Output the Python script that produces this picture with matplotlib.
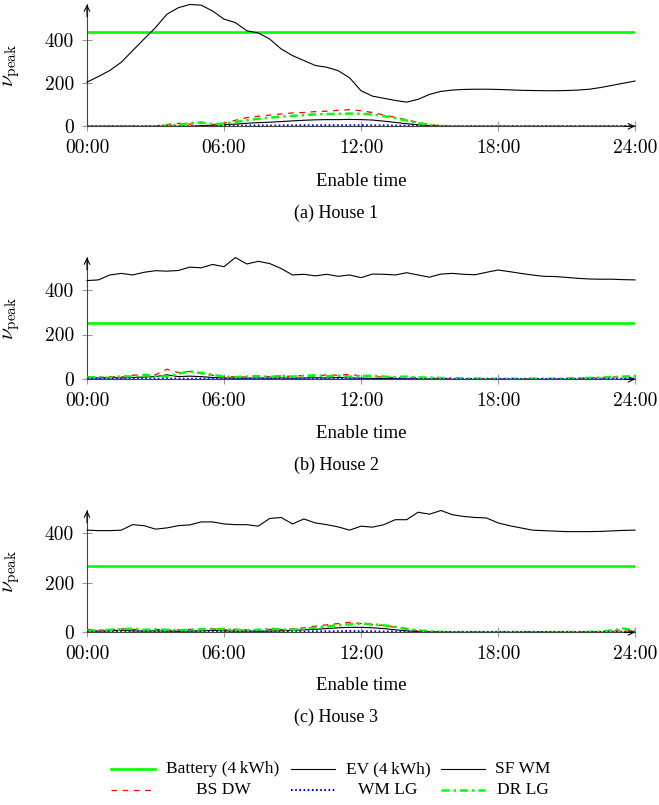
"""
Peak factor vs. enable time for three houses (recreated figure)
"""

import numpy as np
import matplotlib.pyplot as plt
from matplotlib.lines import Line2D
from matplotlib.ticker import FuncFormatter

plt.rcParams['font.family'] = 'serif'
plt.rcParams['font.serif'] = ['Liberation Serif', 'DejaVu Serif']
plt.rcParams['mathtext.fontset'] = 'cm'

# half-hour grid of enable times (hours)
hours = np.arange(0, 24.01, 0.5)

battery = [438, 253, 268]

ev_h1 = [205, 231, 259, 297, 351, 405, 458, 520, 550, 565, 562, 535,
         497, 481, 443, 433, 405, 359, 328, 305, 282, 274, 258, 225,
         165, 140, 130, 120, 112, 125, 148, 162, 168, 171, 172, 172,
         171, 169, 167, 166, 165, 165, 166, 168, 172, 180, 190, 200, 210]
sf_h1 = [0, 0, 0, 0, 0, 0, 0, 0, 0, 0, 3, 5,
         8, 10, 14, 17, 19, 22, 25, 28, 30, 31, 31, 32,
         31, 29, 24, 18, 12, 7, 3, 0, 0, 0, 0, 0,
         0, 0, 0, 0, 0, 0, 0, 0, 0, 0, 0, 0, 0]
bs_h1 = [0, 0, 0, 0, 0, 0, 2, 8, 14, 10, 16, 8,
         14, 28, 40, 47, 52, 57, 62, 64, 68, 70, 74, 77,
         72, 64, 52, 42, 30, 18, 8, 2, 0, 0, 0, 0,
         0, 0, 0, 0, 0, 0, 0, 0, 0, 0, 0, 0, 0]
wm_h1 = [0, 0, 0, 0, 0, 0, 0, 0, 0, 0, 0, 0,
         2, 3, 3, 4, 3, 4, 4, 5, 4, 5, 5, 4,
         5, 4, 4, 3, 3, 2, 1, 0, 0, 0, 0, 0,
         0, 0, 0, 0, 0, 0, 0, 0, 0, 0, 0, 0, 0]
dr_h1 = [0, 0, 0, 0, 0, 0, 0, 3, 6, 15, 18, 10,
         12, 20, 28, 35, 40, 45, 48, 52, 55, 57, 58, 59,
         58, 55, 47, 38, 27, 15, 6, 1, 0, 0, 0, 0,
         0, 0, 0, 0, 0, 0, 0, 0, 0, 0, 0, 0, 0]

ev_h2 = [441, 444, 466, 473, 466, 478, 485, 483, 486, 501, 498, 513,
         503, 544, 515, 527, 517, 495, 466, 469, 462, 469, 460, 466,
         454, 470, 469, 466, 476, 466, 456, 470, 473, 469, 467, 478,
         488, 481, 473, 466, 460, 459, 455, 451, 448, 447, 447, 445, 444]
sf_h2 = [5, 6, 8, 6, 8, 10, 12, 20, 12, 14, 12, 8,
         6, 5, 5, 6, 5, 6, 5, 6, 7, 6, 8, 6,
         5, 4, 3, 3, 2, 2, 1, 1, 0, 0, 0, 0,
         0, 0, 0, 0, 0, 0, 0, 0, 0, 0, 0, 0, 0]
bs_h2 = [12, 8, 12, 10, 18, 22, 20, 45, 30, 35, 25, 18,
         10, 12, 10, 14, 12, 15, 12, 18, 14, 20, 18, 22,
         15, 12, 10, 8, 6, 8, 5, 4, 3, 3, 2, 2,
         1, 2, 1, 2, 1, 2, 3, 4, 8, 5, 10, 12, 15]
wm_h2 = [3, 2, 3, 2, 3, 3, 2, 3, 3, 2, 3, 2,
         2, 3, 2, 2, 3, 2, 2, 2, 3, 2, 2, 2,
         2, 2, 1, 2, 1, 1, 1, 1, 1, 1, 1, 1,
         1, 1, 1, 1, 1, 1, 1, 1, 1, 2, 2, 2, 3]
dr_h2 = [8, 10, 6, 14, 12, 18, 15, 12, 25, 35, 28, 20,
         12, 10, 12, 14, 10, 16, 12, 15, 18, 14, 16, 12,
         14, 16, 12, 10, 12, 8, 8, 6, 5, 4, 3, 3,
         2, 3, 2, 3, 3, 3, 4, 5, 6, 8, 10, 12, 14]

ev_h3 = [411, 409, 409, 411, 433, 429, 415, 420, 429, 432, 444, 444,
         436, 433, 433, 427, 458, 462, 436, 456, 440, 433, 424, 411,
         427, 423, 433, 453, 453, 483, 475, 490, 473, 466, 462, 460,
         440, 429, 420, 411, 409, 407, 405, 405, 405, 406, 408, 410, 411]
sf_h3 = [5, 5, 6, 8, 6, 5, 6, 5, 4, 5, 6, 8,
         6, 5, 5, 4, 5, 6, 8, 10, 12, 15, 18, 20,
         20, 18, 15, 10, 6, 3, 1, 0, 0, 0, 0, 0,
         0, 0, 0, 0, 0, 0, 0, 0, 0, 0, 0, 0, 0]
bs_h3 = [12, 8, 10, 14, 12, 10, 12, 8, 10, 12, 10, 14,
         10, 12, 10, 8, 12, 10, 14, 18, 25, 30, 35, 40,
         35, 30, 28, 20, 12, 6, 3, 2, 1, 2, 1, 1,
         2, 1, 1, 2, 1, 1, 2, 1, 2, 3, 5, 10, 5]
wm_h3 = [2, 2, 3, 2, 2, 3, 2, 2, 3, 2, 2, 3,
         2, 2, 2, 3, 2, 2, 3, 3, 4, 4, 4, 5,
         4, 4, 3, 3, 2, 2, 1, 1, 1, 1, 1, 1,
         1, 1, 1, 1, 1, 1, 1, 1, 1, 1, 2, 2, 2]
dr_h3 = [6, 8, 10, 12, 15, 10, 12, 10, 8, 10, 12, 14,
         12, 10, 8, 10, 14, 12, 10, 14, 18, 24, 28, 32,
         35, 32, 28, 22, 14, 8, 4, 2, 1, 1, 1, 1,
         1, 1, 1, 1, 1, 1, 1, 1, 2, 3, 8, 15, 8]

houses = [
    (ev_h1, sf_h1, bs_h1, wm_h1, dr_h1),
    (ev_h2, sf_h2, bs_h2, wm_h2, dr_h2),
    (ev_h3, sf_h3, bs_h3, wm_h3, dr_h3),
]
captions = ['(a) House 1', '(b) House 2', '(c) House 3']

GREEN = '#00ff00'
styles = {
    'Battery (4\u2009kWh)': dict(color=GREEN, lw=1.9),
    'EV (4\u2009kWh)': dict(color='black', lw=0.8),
    'SF WM': dict(color='black', lw=0.8),
    'BS DW': dict(color='red', lw=0.9, dashes=(4.5, 4.5)),
    'WM LG': dict(color='blue', lw=1.5, dashes=(0.8, 1.2)),
    'DR LG': dict(color=GREEN, lw=1.8, dashes=(3.2, 1.6, 1.0, 1.6)),
}
names = list(styles.keys())

W, H = 659, 805
fig = plt.figure(figsize=(W / 100, H / 100), dpi=100)

# pixel geometry of each panel: y of the zero line, caption, axis label
zero_y = [126.3, 379.3, 632.3]
label_y = [181.5, 433.0, 685.0]
caption_y = [213, 465, 717]
ax_left, ax_right, ax_h = 87, 635, 121.8

for i, (data, cap) in enumerate(zip(houses, captions)):
    ev, sf, bs, wm, dr = data
    ax = fig.add_axes([ax_left / W, 1 - zero_y[i] / H,
                       (ax_right - ax_left) / W, ax_h / H])

    ax.axhline(battery[i], **styles[names[0]], zorder=2)
    ax.plot(hours, ev, **styles[names[1]], zorder=3, clip_on=False)
    ax.plot(hours, sf, **styles[names[2]], zorder=3)
    ax.plot(hours, bs, **styles[names[3]], zorder=4)
    ax.plot(hours, wm, **styles[names[4]], zorder=5)
    ax.plot(hours, dr, **styles[names[5]], zorder=4)

    ax.set_xlim(0, 24)
    ax.set_ylim(0, max(ev))
    ax.set_xticks([0, 6, 12, 18, 24])
    ax.set_yticks([0, 200, 400])
    ax.xaxis.set_major_formatter(FuncFormatter(lambda v, p: f'{int(v):02d}:00'))
    ax.yaxis.set_major_formatter(FuncFormatter(lambda v, p: f'{int(v)}'))
    ax.tick_params(direction='inout', length=7, width=0.8, color='#999999',
                   labelsize=14, pad=6, labelfontfamily='cmr10')

    for s in ['top', 'right']:
        ax.spines[s].set_visible(False)
    for s in ['left', 'bottom']:
        ax.spines[s].set_color('#444444')
        ax.spines[s].set_linewidth(0.8)
    # axis arrows
    ax.annotate('', xy=(1.0, 0), xytext=(0.98, 0), xycoords='axes fraction',
                arrowprops=dict(arrowstyle='->', color='black', lw=0.8,
                                shrinkA=0, shrinkB=0))
    ax.annotate('', xy=(0, 1.0), xytext=(0, 0.9), xycoords='axes fraction',
                arrowprops=dict(arrowstyle='->', color='black', lw=0.8,
                                shrinkA=0, shrinkB=0))

    ax.set_ylabel(r'$\nu_{\mathrm{peak}}$', fontsize=15.5)
    ax.yaxis.set_label_coords(-0.118, 0.5)
    fig.text((ax_left + ax_right) / 2 / W, 1 - label_y[i] / H, 'Enable time',
             ha='center', va='center', fontsize=13.5)
    fig.text(336 / W, 1 - caption_y[i] / H, cap, ha='center', va='center',
             fontsize=13)

# legend, 3 columns x 2 rows, text centred in each column
handle_x = [(111, 155), (291, 335), (441, 485)]
text_cx = [223, 388, 523]
row_y = [769, 790]
for k, name in enumerate(names):
    r, c = divmod(k, 3)
    x0, x1 = handle_x[c]
    y = 1 - row_y[r] / H
    fig.add_artist(Line2D([x0 / W, x1 / W], [y, y], transform=fig.transFigure,
                          **styles[name]))
    fig.text(text_cx[c] / W, y, name, ha='center', va='center', fontsize=12.5)

fig.savefig('out.png', dpi=100)
